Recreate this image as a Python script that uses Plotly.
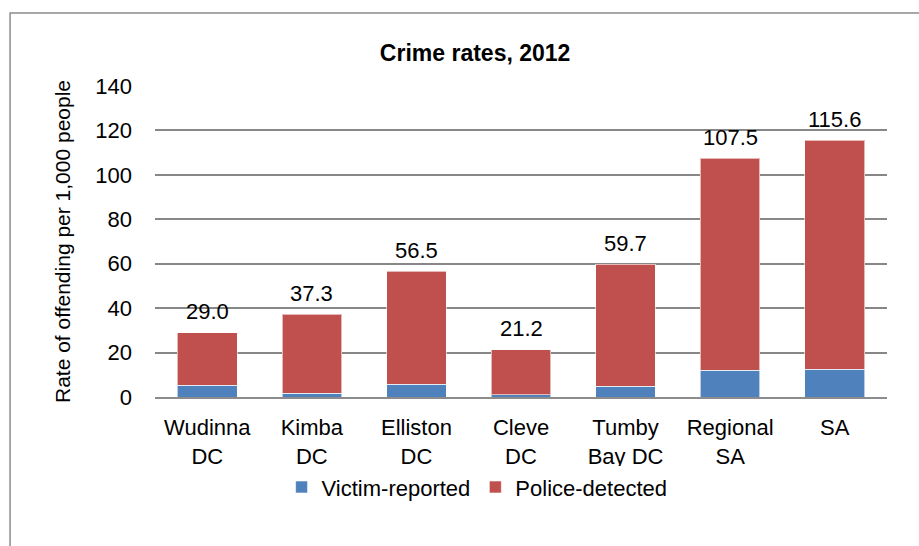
import plotly.graph_objects as go

# Crime rates per 1,000 people, 2012
categories = ["Wudinna<br>DC", "Kimba<br>DC", "Elliston<br>DC", "Cleve<br>DC",
              "Tumby<br>Bay DC", "Regional<br>SA", "SA"]
totals = [29.0, 37.3, 56.5, 21.2, 59.7, 107.5, 115.6]
victim_reported = [5.3, 1.8, 5.8, 1.0, 4.9, 12.0, 12.6]
police_detected = [round(t - v, 1) for t, v in zip(totals, victim_reported)]
y_ticks = [0, 20, 40, 60, 80, 100, 120, 140]

FONT = "Liberation Sans Narrow, Arial Narrow, Liberation Sans, sans-serif"
BLUE = "#4F81BD"
RED = "#C0504D"

fig = go.Figure()
fig.add_trace(go.Bar(
    x=categories, y=victim_reported, name="Victim-reported",
    marker=dict(color=BLUE, line=dict(color="rgba(255,255,255,0.6)", width=1)),
))
fig.add_trace(go.Bar(
    x=categories, y=police_detected, name="Police-detected",
    marker=dict(color=RED, line=dict(color="rgba(255,255,255,0.6)", width=1)),
))

# total labels above each stack
for c, t in zip(categories, totals):
    fig.add_annotation(x=c, y=t, text=f"{t:.1f}", showarrow=False,
                       yanchor="middle", yshift=21,
                       font=dict(family=FONT, size=22, color="#000"))

fig.update_layout(
    width=919, height=546,
    barmode="stack", bargap=0.43,
    paper_bgcolor="white", plot_bgcolor="white",
    margin=dict(l=155, r=32, t=86, b=149),
    font=dict(family=FONT, size=22, color="#000"),
    title=dict(text="<b>Crime rates, 2012</b>", x=0.517, xanchor="center",
               y=0.903, yanchor="middle",
               font=dict(family=FONT, size=23, color="#000")),
    legend=dict(orientation="h", x=0.44, xanchor="center", y=-0.29, yanchor="middle",
                font=dict(family=FONT, size=22), traceorder="normal",
                itemwidth=30),
    showlegend=True,
)
fig.update_xaxes(showline=True, linecolor="#8c8c8c", linewidth=2,
                 tickfont=dict(family=FONT, size=22), ticks="",
                 ticklabelstandoff=10)
fig.update_yaxes(range=[0, 140], tickvals=y_ticks, showgrid=True,
                 gridcolor="#878787", gridwidth=1.5, zeroline=False,
                 ticks="", ticklabelstandoff=22,
                 tickfont=dict(family=FONT, size=22),
                 title=dict(text="Rate of offending per 1,000 people",
                            font=dict(family=FONT, size=21), standoff=18))
# outer chart frame
fig.add_shape(type="rect", xref="paper", yref="paper",
              x0=-0.198, x1=1.06, y0=-0.6, y1=1.2347,
              line=dict(color="#8c8c8c", width=1.5), layer="below")

fig.write_html("out.html")
